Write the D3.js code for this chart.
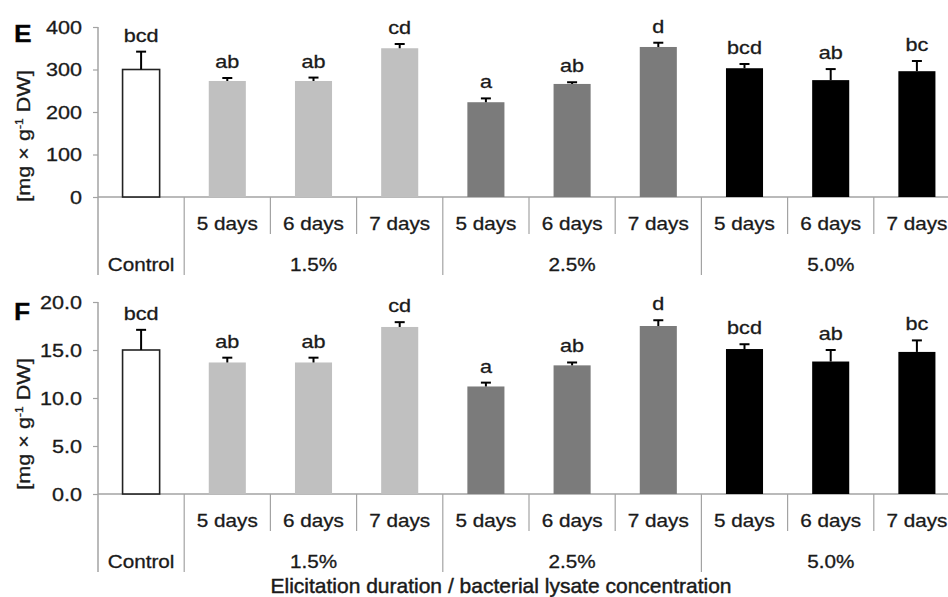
<!DOCTYPE html>
<html>
<head>
<meta charset="utf-8">
<script src="https://cdn.jsdelivr.net/npm/d3@7/dist/d3.min.js"></script>
<style>
  html, body { margin: 0; padding: 0; background: #fff; }
  svg { display: block; font-family: "Liberation Sans", Arial, sans-serif; }
  svg text { stroke: #1a1a1a; stroke-width: 0.3px; }
</style>
</head>
<body>
<svg id="chart" width="948" height="597"></svg>
<script>
// Treatments: control plus three lysate concentrations x three elicitation durations
const categories = ["Control", "1.5% 5d", "1.5% 6d", "1.5% 7d", "2.5% 5d", "2.5% 6d", "2.5% 7d", "5.0% 5d", "5.0% 6d", "5.0% 7d"];
const dayLabels = ["", "5 days", "6 days", "7 days", "5 days", "6 days", "7 days", "5 days", "6 days", "7 days"];
const groupOf = ["Control", "1.5%", "1.5%", "1.5%", "2.5%", "2.5%", "2.5%", "5.0%", "5.0%", "5.0%"];
const groups = ["Control", "1.5%", "2.5%", "5.0%"];
const groupColors = ["#ffffff", "#c0c0c0", "#7b7b7b", "#000000"];

// Panel E
const meanE = [300, 273, 273, 350, 223, 266, 353, 303, 275, 296];
const errE = [42, 7, 8, 10, 9, 4, 10, 10, 26, 24];
const lettersE = ["bcd", "ab", "ab", "cd", "a", "ab", "d", "bcd", "ab", "bc"];
const ticksE = [0, 100, 200, 300, 400];

// Panel F
const meanF = [15.0, 13.7, 13.7, 17.4, 11.2, 13.4, 17.5, 15.1, 13.8, 14.8];
const errF = [2.1, 0.5, 0.5, 0.5, 0.4, 0.3, 0.6, 0.5, 1.2, 1.2];
const lettersF = ["bcd", "ab", "ab", "cd", "a", "ab", "d", "bcd", "ab", "bc"];
const ticksF = [0, 5, 10, 15, 20];

const svg = d3.select("#chart");
const axisColor = "#a3a3a3";
const textColor = "#1a1a1a";
const stretch = 1.15;   // the typeface runs wide
const fs = "18px";

const x0 = 98, step = 86.2;
const x = d3.scaleBand().domain(categories).range([x0, x0 + step * categories.length]).padding(0);
const barW = x.bandwidth() * 0.43;
const color = d3.scaleOrdinal().domain(groups).range(groupColors);

function panel(opts) {
  const { mean, err, letters, ticks, domain, top, base, fmt, label, labelY, titleY } = opts;
  const y = d3.scaleLinear().domain(domain).range([base, top]);
  const g = svg.append("g");

  // y axis
  const ax = g.append("g")
    .attr("transform", `translate(${x0},0)`)
    .call(d3.axisLeft(y).tickValues(ticks).tickFormat(fmt).tickSize(5).tickSizeOuter(0));
  ax.select(".domain").remove();
  ax.selectAll(".tick line").attr("stroke", axisColor).attr("stroke-width", 1.2);
  ax.selectAll(".tick text")
    .attr("x", null).attr("dy", "0.36em")
    .attr("transform", `translate(-16,0) scale(1.2,1)`)
    .attr("fill", textColor)
    .style("font-size", fs).style("font-family", null);

  // vertical axis line running down through the label rows
  g.append("line")
    .attr("x1", x0).attr("x2", x0)
    .attr("y1", y(domain[1])).attr("y2", base + 78)
    .attr("stroke", axisColor).attr("stroke-width", 1.5);

  // baseline
  g.append("line")
    .attr("x1", x0).attr("x2", 948)
    .attr("y1", base).attr("y2", base)
    .attr("stroke", axisColor).attr("stroke-width", 1.5);

  // category separators: short between days, long between groups
  categories.forEach((c, i) => {
    if (i === 0) return;
    const isGroupEdge = groupOf[i] !== groupOf[i - 1];
    g.append("line")
      .attr("x1", x(c)).attr("x2", x(c))
      .attr("y1", base).attr("y2", base + (isGroupEdge ? 78 : 37))
      .attr("stroke", axisColor).attr("stroke-width", 1.2);
  });

  // day labels
  g.selectAll(".day").data(categories.filter((c, i) => dayLabels[i])).join("text")
    .attr("class", "day")
    .attr("transform", c => `translate(${x(c) + x.bandwidth() / 2},${base + 33}) scale(${stretch},1)`)
    .attr("text-anchor", "middle")
    .attr("fill", textColor)
    .style("font-size", fs)
    .text(c => dayLabels[categories.indexOf(c)]);

  // group labels centred under their categories
  groups.forEach(gr => {
    const members = categories.filter((c, i) => groupOf[i] === gr);
    const cx = (x(members[0]) + x(members[members.length - 1]) + x.bandwidth()) / 2;
    g.append("text")
      .attr("transform", `translate(${cx},${base + 74}) scale(${stretch},1)`)
      .attr("text-anchor", "middle")
      .attr("fill", textColor)
      .style("font-size", fs)
      .text(gr);
  });

  // bars
  g.selectAll(".bar").data(categories).join("rect")
    .attr("class", "bar")
    .attr("x", c => x(c) + (x.bandwidth() - barW) / 2)
    .attr("width", barW)
    .attr("y", (c, i) => y(mean[i]))
    .attr("height", (c, i) => base - y(mean[i]))
    .attr("fill", (c, i) => color(groupOf[i]))
    .attr("stroke", (c, i) => i === 0 ? "#222" : "none")
    .attr("stroke-width", 1.6);

  // upper error bars with significance letters
  categories.forEach((c, i) => {
    const cx = x(c) + x.bandwidth() / 2;
    const yTop = y(mean[i] + err[i]);
    g.append("line")
      .attr("x1", cx).attr("x2", cx)
      .attr("y1", y(mean[i])).attr("y2", yTop)
      .attr("stroke", "#000").attr("stroke-width", 2);
    g.append("line")
      .attr("x1", cx - 5).attr("x2", cx + 5)
      .attr("y1", yTop).attr("y2", yTop)
      .attr("stroke", "#000").attr("stroke-width", 2);
    g.append("text")
      .attr("transform", `translate(${cx},${yTop - 10}) scale(1.2,1)`)
      .attr("text-anchor", "middle")
      .attr("fill", textColor)
      .style("font-size", fs)
      .text(letters[i]);
  });

  // panel letter
  g.append("text")
    .attr("transform", `translate(14,${labelY}) scale(1.15,1)`)
    .attr("fill", "#000")
    .style("font-size", "23px").style("font-weight", "bold")
    .text(label);

  // y axis title
  const t = g.append("text")
    .attr("transform", `translate(30,${titleY}) rotate(-90) scale(1.2,1)`)
    .attr("text-anchor", "middle")
    .attr("fill", textColor)
    .style("font-size", fs);
  t.append("tspan").text("[mg × g");
  t.append("tspan").attr("dy", -7).style("font-size", "10px").text("-1");
  t.append("tspan").attr("dy", 7).text(" DW]");
}

panel({
  mean: meanE, err: errE, letters: lettersE, ticks: ticksE,
  domain: [0, 400], top: 27, base: 197, fmt: d3.format("d"),
  label: "E", labelY: 42, titleY: 136
});

panel({
  mean: meanF, err: errF, letters: lettersF, ticks: ticksF,
  domain: [0, 20], top: 302, base: 494, fmt: d3.format(".1f"),
  label: "F", labelY: 320, titleY: 424
});

// shared x axis title
svg.append("text")
  .attr("x", 501).attr("y", 593)
  .attr("text-anchor", "middle")
  .attr("fill", textColor)
  .style("font-size", "21px")
  .style("stroke-width", "0.45px")
  .text("Elicitation duration / bacterial lysate concentration");
</script>
</body>
</html>
